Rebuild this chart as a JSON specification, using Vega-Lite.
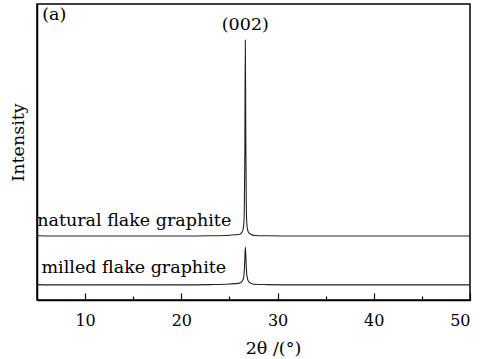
{
  "$schema": "https://vega.github.io/schema/vega-lite/v6.json",
  "width": 433,
  "height": 296,
  "autosize": "none",
  "padding": {"left": 37, "top": 4, "right": 12, "bottom": 59},
  "background": "white",
  "config": {
    "font": "DejaVu Serif",
    "view": {"stroke": "black", "strokeWidth": 1.5},
    "axis": {"grid": false, "domainColor": "black", "domainWidth": 1.5, "tickColor": "black", "labelColor": "black", "titleColor": "black", "labelFont": "DejaVu Serif", "titleFont": "DejaVu Serif", "labelFontSize": 16, "titleFontSize": 17.5, "titleFontWeight": "normal"}
  },
  "datasets": {
    "patterns": [
      {"theta": 5, "intensity": 21.7, "sample": "natural"},
      {"theta": 8, "intensity": 21.6, "sample": "natural"},
      {"theta": 12, "intensity": 21.6, "sample": "natural"},
      {"theta": 16, "intensity": 21.6, "sample": "natural"},
      {"theta": 20, "intensity": 21.6, "sample": "natural"},
      {"theta": 23, "intensity": 21.7, "sample": "natural"},
      {"theta": 25, "intensity": 21.9, "sample": "natural"},
      {"theta": 26.05, "intensity": 22.2, "sample": "natural"},
      {"theta": 26.25, "intensity": 22.7, "sample": "natural"},
      {"theta": 26.4, "intensity": 23.6, "sample": "natural"},
      {"theta": 26.5, "intensity": 26.0, "sample": "natural"},
      {"theta": 26.55, "intensity": 32.0, "sample": "natural"},
      {"theta": 26.6, "intensity": 50.0, "sample": "natural"},
      {"theta": 26.65, "intensity": 87.8, "sample": "natural"},
      {"theta": 26.7, "intensity": 55.0, "sample": "natural"},
      {"theta": 26.75, "intensity": 33.0, "sample": "natural"},
      {"theta": 26.8, "intensity": 26.0, "sample": "natural"},
      {"theta": 26.9, "intensity": 23.5, "sample": "natural"},
      {"theta": 27.05, "intensity": 22.6, "sample": "natural"},
      {"theta": 27.35, "intensity": 22.0, "sample": "natural"},
      {"theta": 27.65, "intensity": 21.8, "sample": "natural"},
      {"theta": 29, "intensity": 21.7, "sample": "natural"},
      {"theta": 32, "intensity": 21.6, "sample": "natural"},
      {"theta": 36, "intensity": 21.6, "sample": "natural"},
      {"theta": 40, "intensity": 21.6, "sample": "natural"},
      {"theta": 45, "intensity": 21.6, "sample": "natural"},
      {"theta": 50, "intensity": 21.6, "sample": "natural"},
      {"theta": 5, "intensity": 5.2, "sample": "milled"},
      {"theta": 8, "intensity": 5.1, "sample": "milled"},
      {"theta": 12, "intensity": 5.1, "sample": "milled"},
      {"theta": 16, "intensity": 5.1, "sample": "milled"},
      {"theta": 20, "intensity": 5.1, "sample": "milled"},
      {"theta": 23, "intensity": 5.2, "sample": "milled"},
      {"theta": 25, "intensity": 5.4, "sample": "milled"},
      {"theta": 26.05, "intensity": 5.7, "sample": "milled"},
      {"theta": 26.25, "intensity": 6.1, "sample": "milled"},
      {"theta": 26.4, "intensity": 6.8, "sample": "milled"},
      {"theta": 26.5, "intensity": 8.2, "sample": "milled"},
      {"theta": 26.55, "intensity": 10.2, "sample": "milled"},
      {"theta": 26.6, "intensity": 14.0, "sample": "milled"},
      {"theta": 26.65, "intensity": 17.9, "sample": "milled"},
      {"theta": 26.7, "intensity": 15.2, "sample": "milled"},
      {"theta": 26.75, "intensity": 11.2, "sample": "milled"},
      {"theta": 26.8, "intensity": 8.6, "sample": "milled"},
      {"theta": 26.9, "intensity": 6.9, "sample": "milled"},
      {"theta": 27.05, "intensity": 6.0, "sample": "milled"},
      {"theta": 27.35, "intensity": 5.5, "sample": "milled"},
      {"theta": 27.65, "intensity": 5.3, "sample": "milled"},
      {"theta": 29, "intensity": 5.2, "sample": "milled"},
      {"theta": 32, "intensity": 5.1, "sample": "milled"},
      {"theta": 36, "intensity": 5.1, "sample": "milled"},
      {"theta": 40, "intensity": 5.1, "sample": "milled"},
      {"theta": 45, "intensity": 5.1, "sample": "milled"},
      {"theta": 50, "intensity": 5.1, "sample": "milled"}
    ],
    "leftNotes": [
      {"theta": 5.55, "intensity": 94.6, "text": "(a)"},
      {"theta": 5.02, "intensity": 25.0, "text": "natural flake graphite"},
      {"theta": 5.47, "intensity": 9.2, "text": "milled flake graphite"}
    ],
    "peakNotes": [
      {"theta": 26.65, "intensity": 91.3, "text": "(002)"}
    ]
  },
  "layer": [
    {
      "data": {"name": "patterns"},
      "mark": {"type": "line", "color": "#222222", "strokeWidth": 1.1, "interpolate": "monotone"},
      "encoding": {
        "x": {
          "field": "theta", "type": "quantitative",
          "scale": {"domain": [5, 50], "nice": false},
          "axis": {
            "title": "2θ /(°)",
            "values": [10, 15, 20, 25, 30, 35, 40, 45, 50],
            "labelExpr": "datum.value % 10 === 0 ? datum.label : ''",
            "tickSize": {"condition": {"test": "datum.value % 10 === 0", "value": -7}, "value": -4},
            "tickWidth": 1.2,
            "labelPadding": 19,
            "titleX": 236,
            "titleY": 53,
            "titleBaseline": "alphabetic"
          }
        },
        "y": {
          "field": "intensity", "type": "quantitative",
          "scale": {"domain": [0, 100], "nice": false},
          "axis": {
            "title": "Intensity",
            "ticks": false,
            "labels": false,
            "titleY": 138,
            "titleX": -14,
            "titleBaseline": "alphabetic"
          }
        },
        "detail": {"field": "sample"}
      }
    },
    {
      "data": {"name": "leftNotes"},
      "mark": {"type": "text", "fontSize": 17.5, "font": "DejaVu Serif", "color": "black", "baseline": "alphabetic", "align": "left"},
      "encoding": {
        "x": {"field": "theta", "type": "quantitative"},
        "y": {"field": "intensity", "type": "quantitative"},
        "text": {"field": "text"}
      }
    },
    {
      "data": {"name": "peakNotes"},
      "mark": {"type": "text", "fontSize": 17.5, "font": "DejaVu Serif", "color": "black", "baseline": "alphabetic", "align": "center"},
      "encoding": {
        "x": {"field": "theta", "type": "quantitative"},
        "y": {"field": "intensity", "type": "quantitative"},
        "text": {"field": "text"}
      }
    }
  ]
}
